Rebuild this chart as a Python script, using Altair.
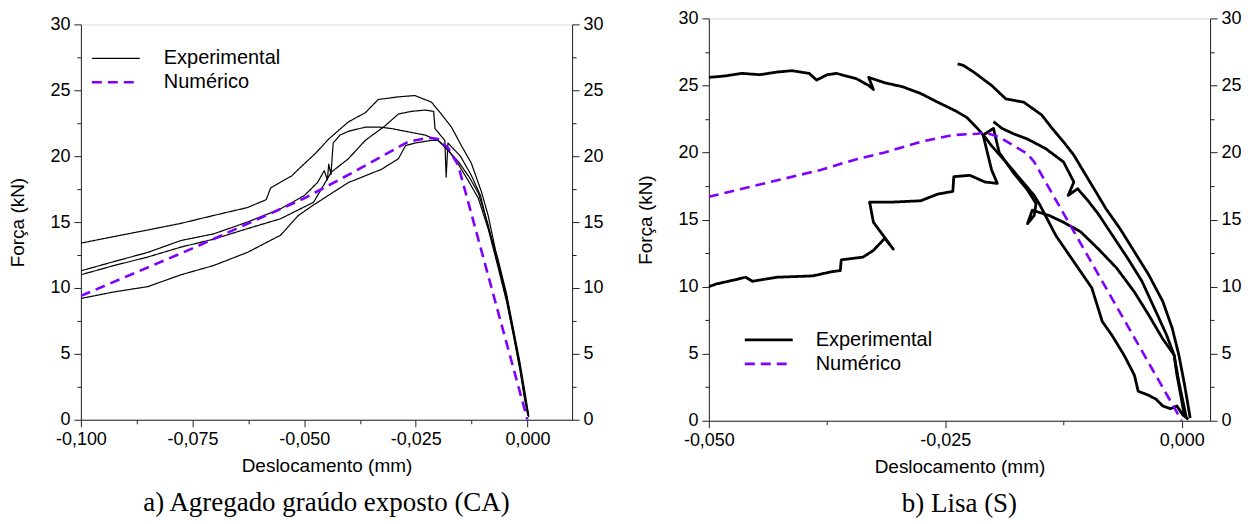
import altair as alt
import pandas as pd

FONT = "Liberation Sans"
SERIF = "Liberation Serif"
SERIES = ["Experimental", "Numérico"]
COLORS = ["#000000", "#8000ff"]

# ---------------- panel a) Agregado graúdo exposto (CA) ----------------
ca1_x = [-0.100, -0.0926, -0.0850, -0.0776, -0.0703, -0.0627, -0.0585, -0.0575, -0.0528, -0.0513,
         -0.0475, -0.0445, -0.0401, -0.0363, -0.0334, -0.0289, -0.0252, -0.0215, -0.0193, -0.0170,
         -0.0148, -0.0126, -0.0103, -0.0088, -0.0066, -0.0047, -0.0032, -0.0017, -0.0006, 0.0003]
ca1_y = [13.4, 13.9, 14.4, 14.9, 15.5, 16.1, 16.7, 17.6, 18.5, 19.0,
         20.2, 21.3, 22.6, 23.3, 24.3, 24.5, 24.6, 24.1, 23.2, 22.2,
         20.8, 19.5, 17.3, 15.5, 12.0, 9.4, 6.9, 4.1, 1.6, 0.3]

ca2_x = [-0.100, -0.0926, -0.0850, -0.0776, -0.0703, -0.0627, -0.0553, -0.0500, -0.0470, -0.0455,
         -0.0448, -0.0445, -0.0440, -0.0435, -0.0420, -0.0400, -0.0363, -0.0330, -0.0305, -0.0260,
         -0.0229, -0.0200, -0.0180, -0.0155, -0.0130, -0.0110, -0.0088, -0.0066, -0.0047, -0.0032,
         -0.0017, -0.0006, 0.0003]
ca2_y = [11.3, 12.0, 12.7, 13.6, 14.1, 15.0, 16.0, 17.0, 18.0, 18.9,
         18.2, 19.4, 18.6, 21.0, 21.6, 21.9, 22.2, 22.2, 22.1, 21.8,
         21.6, 21.2, 20.5, 19.6, 18.4, 17.2, 14.8, 11.8, 9.2, 6.6,
         4.0, 1.8, 0.2]

ca3_x = [-0.100, -0.0926, -0.0850, -0.0776, -0.0703, -0.0627, -0.0553, -0.0479, -0.0439, -0.0401,
         -0.0363, -0.0319, -0.0289, -0.0260, -0.0229, -0.0210, -0.0207, -0.0195, -0.0185, -0.0182,
         -0.0178, -0.0150, -0.0125, -0.0105, -0.0088, -0.0066, -0.0047, -0.0032, -0.0017, -0.0006,
         0.0002]
ca3_y = [11.0, 11.7, 12.35, 13.1, 13.7, 14.5, 15.25, 16.5, 18.8, 19.8,
         21.2, 22.3, 23.2, 23.4, 23.5, 23.4, 22.1, 21.6, 21.2, 18.4,
         21.0, 20.0, 18.5, 17.0, 14.6, 12.2, 9.6, 7.0, 4.4, 2.2,
         0.5]

ca4_x = [-0.100, -0.0926, -0.0850, -0.0776, -0.0703, -0.0627, -0.0553, -0.0513, -0.0479, -0.0401,
         -0.0327, -0.0289, -0.0273, -0.0251, -0.0215, -0.0200, -0.0180, -0.0155, -0.0130, -0.0110,
         -0.0088, -0.0066, -0.0047, -0.0032, -0.0017, -0.0006, 0.0001]
ca4_y = [9.2, 9.7, 10.1, 11.0, 11.7, 12.7, 14.0, 15.5, 16.3, 18.0,
         19.0, 19.8, 20.8, 21.0, 21.2, 21.2, 20.6, 19.4, 18.0, 16.8,
         14.5, 11.6, 9.0, 6.5, 3.8, 1.5, 0.3]

ca_num_x = [-0.100, -0.075, -0.050, -0.040, -0.0267, -0.0222, -0.0200, -0.0177, -0.0155, 0.000]
ca_num_y = [9.4, 13.0, 16.8, 18.6, 21.1, 21.4, 21.3, 20.6, 19.3, 0.0]

# ---------------- panel b) Lisa (S) ----------------
s1_x = [-0.0500, -0.0484, -0.0465, -0.0446, -0.0428, -0.0412, -0.0394, -0.0386, -0.0375, -0.0365,
        -0.0344, -0.0331, -0.0326, -0.0331, -0.0314, -0.0295, -0.0276, -0.0258, -0.0239, -0.0227,
        -0.0216, -0.0208, -0.0201, -0.0186, -0.0171, -0.0156, -0.0150, -0.0133, -0.0114, -0.0095,
        -0.0084, -0.0074, -0.0061, -0.0050, -0.0046, -0.0035, -0.0027, -0.0020, -0.0012, -0.0005,
        0.0001, 0.0007]
s1_y = [25.6, 25.7, 25.9, 25.8, 26.0, 26.1, 25.9, 25.4, 25.8, 25.9,
        25.5, 25.0, 24.7, 25.6, 25.2, 24.9, 24.4, 23.75, 23.1, 22.6,
        21.8, 21.15, 20.5, 19.3, 18.05, 16.8, 16.1, 13.8, 11.85, 9.9,
        7.4, 6.4, 4.9, 3.4, 2.2, 1.9, 1.6, 1.1, 0.9, 1.1,
        0.45, 0.1]

s2_x = [-0.0500, -0.0492, -0.0473, -0.0461, -0.0454, -0.0428, -0.0390, -0.0371, -0.0361, -0.0360,
        -0.0337, -0.0326, -0.0314, -0.0305, -0.0326, -0.0330, -0.0307, -0.0276, -0.0258, -0.0242,
        -0.0241, -0.0224, -0.0208, -0.0195, -0.0201, -0.0210, -0.0199, -0.0193, -0.0178, -0.0163,
        -0.0154, -0.0156, -0.0163, -0.0158, -0.0140, -0.0125, -0.0107, -0.0088, -0.0069, -0.0050,
        -0.0035, -0.0020, -0.0008, -0.0005, -0.0001, 0.0003]
s2_y = [10.0, 10.2, 10.5, 10.7, 10.4, 10.7, 10.8, 11.1, 11.2, 12.0,
        12.2, 12.7, 13.6, 12.8, 14.8, 16.3, 16.3, 16.4, 16.9, 17.1,
        18.2, 18.3, 17.8, 17.7, 18.7, 21.3, 21.8, 20.0, 18.5, 17.2,
        16.2, 15.3, 14.7, 15.7, 15.3, 14.8, 14.1, 12.8, 11.4, 9.6,
        7.9, 6.1, 4.9, 3.4, 1.9, 0.3]

s3_x = [-0.0199, -0.0190, -0.0178, -0.0163, -0.0144, -0.0125, -0.0114, -0.0120, -0.0110, -0.0099,
        -0.0088, -0.0073, -0.0057, -0.0042, -0.0027, -0.0016, -0.0008, -0.0003, 0.0005]
s3_y = [22.3, 21.8, 21.4, 21.0, 20.3, 19.3, 17.8, 16.8, 17.3, 16.4,
        15.4, 13.8, 12.1, 10.4, 8.1, 6.4, 4.9, 2.9, 0.2]

s4_x = [-0.0237, -0.0231, -0.0220, -0.0201, -0.0186, -0.0167, -0.0148, -0.0137, -0.0125, -0.0114,
        -0.0103, -0.0091, -0.0080, -0.0065, -0.0050, -0.0035, -0.0020, -0.0010, -0.0003, 0.0003,
        0.0009]
s4_y = [26.6, 26.5, 26.0, 25.0, 24.0, 23.75, 22.8, 21.8, 20.8, 19.8,
        18.5, 17.1, 15.8, 14.3, 12.6, 10.9, 8.9, 6.9, 4.9, 2.7,
        0.2]

s_num_x = [-0.0500, -0.0435, -0.0382, -0.0344, -0.0314, -0.0276, -0.0242, -0.0216, -0.0208, -0.0193,
           -0.0163, -0.0156, 0.0000]
s_num_y = [16.7, 17.8, 18.7, 19.5, 20.0, 20.8, 21.3, 21.4, 21.5, 21.15,
           19.9, 19.3, 0.0]

# axis tick values (major + minor)
ca_ticks_x = [-0.1, -0.0875, -0.075, -0.0625, -0.05, -0.0375, -0.025, -0.0125, 0.0]
s_ticks_x = [-0.05, -0.0375, -0.025, -0.0125, 0.0]
ticks_y = [0, 2.5, 5, 7.5, 10, 12.5, 15, 17.5, 20, 22.5, 25, 27.5, 30]


def build(curves):
    rows = []
    for name, series, xs, ys in curves:
        for i, (x, y) in enumerate(zip(xs, ys)):
            rows.append({"d": x, "F": y, "curve": name, "series": series, "idx": i})
    return pd.DataFrame(rows)


ca_df = build([
    ("e1", "Experimental", ca1_x, ca1_y),
    ("e2", "Experimental", ca2_x, ca2_y),
    ("e3", "Experimental", ca3_x, ca3_y),
    ("e4", "Experimental", ca4_x, ca4_y),
    ("n", "Numérico", ca_num_x, ca_num_y),
])
s_df = build([
    ("e1", "Experimental", s1_x, s1_y),
    ("e2", "Experimental", s2_x, s2_y),
    ("e3", "Experimental", s3_x, s3_y),
    ("e4", "Experimental", s4_x, s4_y),
    ("n", "Numérico", s_num_x, s_num_y),
])

X_MAJOR = "abs(datum.value*40 - round(datum.value*40)) < 0.001"
X_LABEL = (X_MAJOR + " ? ((datum.value < -0.0000001 ? '-' : '') + "
           "replace(format(abs(datum.value), '.3f'), '.', ',')) : ''")
Y_MAJOR = "datum.value % 5 == 0"
Y_LABEL = Y_MAJOR + " ? format(datum.value, 'd') : ''"

LEG_RES = dict(color="independent", strokeDash="independent", strokeWidth="independent")


def ax_common():
    return dict(
        grid=False, labelFont=FONT, titleFont=FONT, labelFontSize=18, titleFontSize=19,
        titleFontWeight="normal", labelColor="black", titleColor="black",
        domainColor="#222222", tickColor="#222222", labelPadding=4, labelFlush=False,
    )


def panel(df, xdom, xticks, w, h, lx, ly, loff, caption, exp_w):
    legend = alt.Legend(
        title=None, orient="none", legendX=lx, legendY=ly,
        symbolType="M-4,0H4", symbolSize=144, symbolStrokeWidth=2,
        labelFont=FONT, labelFontSize=20, labelColor="black", labelOffset=loff,
        rowPadding=4, padding=0,
    )
    xaxis = alt.Axis(
        values=xticks, labelExpr=X_LABEL, title="Deslocamento (mm)", titlePadding=8,
        tickSize={"condition": {"test": X_MAJOR, "value": 7}, "value": 4},
        **ax_common(),
    )
    yscale = alt.Scale(domain=[0, 30], nice=False, zero=True)
    yleft = alt.Axis(
        orient="left", values=ticks_y, labelExpr=Y_LABEL, title="Força (kN)", titlePadding=22,
        tickSize={"condition": {"test": Y_MAJOR, "value": 7}, "value": 4},
        **ax_common(),
    )
    yright = alt.Axis(
        orient="right", values=ticks_y, labelExpr=Y_LABEL, title=None,
        tickSize={"condition": {"test": Y_MAJOR, "value": 7}, "value": 4},
        **ax_common(),
    )
    base = alt.Chart(df).encode(
        x=alt.X("d:Q", scale=alt.Scale(domain=xdom, nice=False, zero=False), axis=xaxis),
        order=alt.Order("idx:Q"),
        detail="curve:N",
        color=alt.Color("series:N", scale=alt.Scale(domain=SERIES, range=COLORS), legend=legend),
        strokeDash=alt.StrokeDash("series:N", scale=alt.Scale(domain=SERIES, range=[[1, 0], [10, 6]]),
                                  legend=legend),
        strokeWidth=alt.StrokeWidth("series:N", scale=alt.Scale(domain=SERIES, range=[exp_w, 2.6]),
                                    legend=legend),
    )
    exp = base.transform_filter(alt.datum.series == "Experimental").mark_line(
        clip=True, strokeJoin="round").encode(y=alt.Y("F:Q", scale=yscale, axis=yleft))
    num = base.transform_filter(alt.datum.series == "Numérico").mark_line(
        clip=True, strokeCap="butt").encode(y=alt.Y("F:Q", scale=yscale, axis=yright))
    return alt.layer(exp, num).resolve_axis(y="independent").properties(
        width=w, height=h,
        title=alt.TitleParams(text=caption, orient="bottom", anchor="middle", frame="group",
                              font=SERIF, fontSize=27, fontWeight="normal", color="black",
                              offset=14),
    )


left = panel(ca_df, [-0.1, 0.01], ca_ticks_x, 492, 396, 25, 24, 38,
             "a) Agregado graúdo exposto (CA)", 1.2)
right = panel(s_df, [-0.05, 0.003], s_ticks_x, 502, 403, 50, 312, 37,
              "b) Lisa (S)", 2.8)

spacer = alt.Chart(pd.DataFrame({"v": [0]})).mark_point(opacity=0, size=1).properties(
    width=1, height=1, view=alt.ViewBackground(stroke=None))

chart = alt.hconcat(
    alt.vconcat(spacer, left, spacing=5, bounds="flush").resolve_legend(**LEG_RES),
    right,
    spacing=32,
).resolve_scale(strokeWidth="independent").resolve_legend(**LEG_RES).properties(
    padding={"left": 0, "top": 0, "right": 2, "bottom": 0}
).configure_view(stroke="#222222", strokeWidth=1).configure(background="white")

chart.save("out.html", embed_options={"renderer": "svg", "actions": False})
